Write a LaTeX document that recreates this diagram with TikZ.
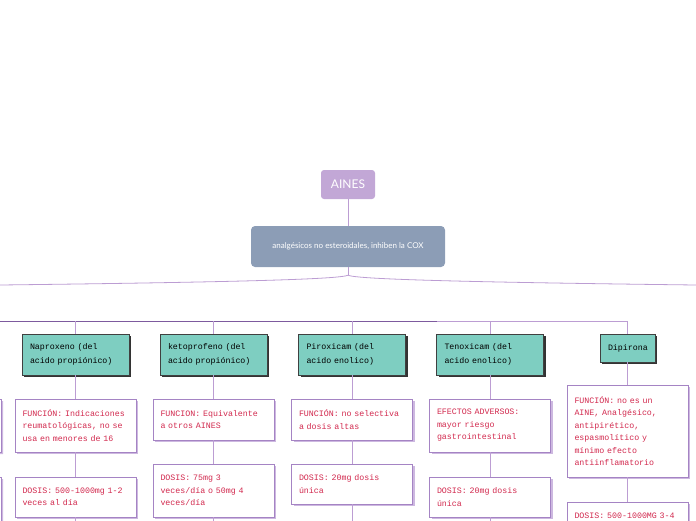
\documentclass[tikz,border=0pt]{standalone}
\usepackage{fontspec}
\setmonofont{Liberation Mono}
\setsansfont{Lato}
\usetikzlibrary{shadows}
\definecolor{ainesPurple}{HTML}{C2A7D6}
\definecolor{coxSlate}{HTML}{8C9DB6}
\definecolor{drugTeal}{HTML}{7ECEC1}
\definecolor{linkPurple}{HTML}{BC9DD3}
\definecolor{barPurple}{HTML}{7D5A9E}
\definecolor{boxPurple}{HTML}{A584C4}
\definecolor{shadePurple}{HTML}{CDB8E0}
\definecolor{textRed}{HTML}{D2294E}

\begin{document}
\begin{tikzpicture}[x=1pt,y=-1pt,
    linkLine/.style={linkPurple,line width=0.8pt},
    titleBox/.style={fill=ainesPurple,rounded corners=3pt,minimum width=54pt,minimum height=29pt,
      text=white,font=\fontsize{12}{14}\selectfont\sffamily},
    coxBox/.style={fill=coxSlate,rounded corners=4pt,minimum width=194pt,minimum height=41pt,
      text=white,font=\fontsize{8}{9}\selectfont\sffamily},
    drugBox/.style={draw=black!75,fill=drugTeal,line width=0.6pt,minimum height=41pt,
      text width=91pt,inner xsep=8pt,align=left,font=\fontsize{8.3}{13.7}\selectfont\ttfamily,
      drop shadow={shadow xshift=2pt,shadow yshift=-2pt,fill=black!80,opacity=1}},
    infoBox/.style={draw=boxPurple,fill=white,line width=0.8pt,text=textRed,
      text width=106pt,inner xsep=7.5pt,align=left,font=\fontsize{8.3}{12.5}\selectfont\ttfamily,
      drop shadow={shadow xshift=2pt,shadow yshift=-2pt,fill=shadePurple,opacity=1}}]
    \clip (0,0) rectangle (696,520);

    \node[titleBox] (aines) at (348,184.5) {AINES};
    \node[coxBox] (cox) at (348,246.5) {analgésicos no esteroidales, inhiben la COX};

    \node[drugBox] (nap) at (75.5,354.5) {Naproxeno (del\\acido propiónico)};
    \node[drugBox] (keto) at (213.5,354.5) {ketoprofeno (del\\acido propiónico)};
    \node[drugBox] (pirox) at (352,354.5) {Piroxicam (del\\acido enolico)};
    \node[drugBox] (tenox) at (490,354.5) {Tenoxicam (del\\acido enolico)};
    \node[drugBox,text width=39pt,minimum height=28pt,align=center] (dip) at (627.5,348) {Dipirona};

    \draw[boxPurple,line width=0.8pt,fill=white,drop shadow={shadow xshift=2pt,shadow yshift=-2pt,fill=shadePurple,opacity=1}]
      (-120,399) rectangle (1,452) (-120,477) rectangle (1,540);

    \node[infoBox,minimum height=53pt] (napF) at (75.5,425.5) {FUNCIÓN: Indicaciones\\reumatológicas, no se\\usa en menores de 16};
    \node[infoBox,minimum height=40pt] (napD) at (75.5,497) {DOSIS: 500-1000mg 1-2\\veces al día};
    \node[infoBox,minimum height=41pt] (ketF) at (213.5,419.5) {FUNCION: Equivalente\\a otros AINES};
    \node[infoBox,minimum height=53pt] (ketD) at (213.5,490.5) {DOSIS: 75mg 3\\veces/día o 50mg 4\\veces/día};
    \node[infoBox,minimum height=41pt] (pirF) at (352,419.5) {FUNCIÓN: no selectiva\\a dosis altas};
    \node[infoBox,minimum height=40pt] (pirD) at (352,484) {DOSIS: 20mg dosis\\única};
    \node[infoBox,minimum height=53pt] (tenF) at (490,425.5) {EFECTOS ADVERSOS:\\mayor riesgo\\gastrointestinal};
    \node[infoBox,minimum height=40pt] (tenD) at (490,497) {DOSIS: 20mg dosis\\única};
    \node[infoBox,minimum height=92pt] (dipF) at (627.5,431) {FUNCIÓN: no es un\\AINE, Analgésico,\\antipirético,\\espasmolítico y\\mínimo efecto\\antiinflamatorio};
    \node[infoBox,minimum height=28pt] (dipD) at (627.5,516) {DOSIS: 500-1000MG 3-4};

    \coordinate (leftEnd) at (0,285);
    \coordinate (rightEnd) at (696,285);
    \coordinate (barL) at (0,321);
    \coordinate (barM) at (437,321);

    \draw[linkLine] (aines) -- (cox);
    \draw[linkLine] (cox.south) -- ++(0,8) coordinate (fork);
    \draw[linkLine] (fork) .. controls (340,279) and (250,282) .. (leftEnd);
    \draw[linkLine] (fork) .. controls (356,279) and (450,282) .. (rightEnd);

    \draw[barPurple,line width=1pt] (barL) -- (barM);
    \draw[linkLine] (barM) -| (dip);
    \foreach \drug in {nap,keto,pirox,tenox}
      \draw[linkLine] (\drug.north |- barL) -- (\drug);

    \draw[linkLine] (nap) -- (napF) (napF) -- (napD) (napD.south) -- ++(0,10);
    \draw[linkLine] (keto) -- (ketF) (ketF) -- (ketD) (ketD.south) -- ++(0,10);
    \draw[linkLine] (pirox) -- (pirF) (pirF) -- (pirD) (pirD.south) -- ++(0,20);
    \draw[linkLine] (tenox) -- (tenF) (tenF) -- (tenD) (tenD.south) -- ++(0,10);
    \draw[linkLine] (dip) -- (dipF) (dipF) -- (dipD);
\end{tikzpicture}
\end{document}
